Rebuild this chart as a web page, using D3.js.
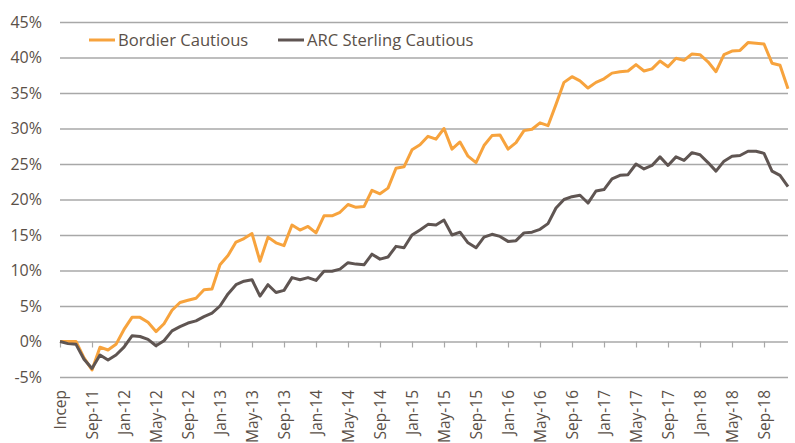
<!DOCTYPE html>
<html>
<head>
<meta charset="utf-8">
<script src="https://cdn.jsdelivr.net/npm/d3@7"></script>
<style>
  body { margin: 0; background: #fff; }
  text { font-family: "Open Sans", "Noto Sans", sans-serif; fill: #5a5048; }
</style>
</head>
<body>
<svg id="chart"></svg>
<script>
const months = [
  "Incep","Jun-11","Jul-11","Aug-11","Sep-11","Oct-11","Nov-11","Dec-11",
  "Jan-12","Feb-12","Mar-12","Apr-12","May-12","Jun-12","Jul-12","Aug-12","Sep-12","Oct-12","Nov-12","Dec-12",
  "Jan-13","Feb-13","Mar-13","Apr-13","May-13","Jun-13","Jul-13","Aug-13","Sep-13","Oct-13","Nov-13","Dec-13",
  "Jan-14","Feb-14","Mar-14","Apr-14","May-14","Jun-14","Jul-14","Aug-14","Sep-14","Oct-14","Nov-14","Dec-14",
  "Jan-15","Feb-15","Mar-15","Apr-15","May-15","Jun-15","Jul-15","Aug-15","Sep-15","Oct-15","Nov-15","Dec-15",
  "Jan-16","Feb-16","Mar-16","Apr-16","May-16","Jun-16","Jul-16","Aug-16","Sep-16","Oct-16","Nov-16","Dec-16",
  "Jan-17","Feb-17","Mar-17","Apr-17","May-17","Jun-17","Jul-17","Aug-17","Sep-17","Oct-17","Nov-17","Dec-17",
  "Jan-18","Feb-18","Mar-18","Apr-18","May-18","Jun-18","Jul-18","Aug-18","Sep-18","Oct-18","Nov-18","Dec-18"
];

const tickLabels = [
  "Incep","Sep-11","Jan-12","May-12","Sep-12","Jan-13","May-13","Sep-13",
  "Jan-14","May-14","Sep-14","Jan-15","May-15","Sep-15","Jan-16","May-16",
  "Sep-16","Jan-17","May-17","Sep-17","Jan-18","May-18","Sep-18"
];

const bordier = [
  0, 0, 0, -2.3, -4.0, -0.8, -1.2, -0.4,
  1.7, 3.4, 3.4, 2.7, 1.4, 2.5, 4.4, 5.5, 5.8, 6.1, 7.3, 7.4,
  10.8, 12.1, 14.0, 14.5, 15.2, 11.3, 14.7, 13.9, 13.5, 16.4, 15.7, 16.2,
  15.3, 17.7, 17.7, 18.2, 19.3, 18.9, 19.0, 21.3, 20.8, 21.6, 24.4, 24.6,
  27.0, 27.7, 28.9, 28.5, 30.0, 27.1, 28.1, 26.1, 25.2, 27.6, 29.0, 29.1,
  27.1, 28.0, 29.7, 29.9, 30.8, 30.4, 33.4, 36.5, 37.3, 36.7, 35.7, 36.5,
  37.0, 37.8, 38.0, 38.1, 39.0, 38.1, 38.4, 39.5, 38.7, 39.9, 39.6, 40.5,
  40.4, 39.4, 38.0, 40.4, 40.9, 41.0, 42.1, 42.0, 41.9, 39.2, 38.9, 35.6
];

const arcSterling = [
  0, -0.3, -0.4, -2.5, -3.8, -1.9, -2.6, -1.9,
  -0.8, 0.8, 0.7, 0.3, -0.6, 0.1, 1.5, 2.1, 2.6, 2.9, 3.5, 4.0,
  5.0, 6.7, 8.0, 8.5, 8.7, 6.4, 8.0, 6.9, 7.2, 9.0, 8.7, 9.0,
  8.6, 9.9, 9.9, 10.2, 11.1, 10.9, 10.8, 12.3, 11.6, 11.9, 13.4, 13.2,
  15.0, 15.7, 16.5, 16.4, 17.1, 15.0, 15.4, 13.9, 13.2, 14.7, 15.1, 14.8,
  14.1, 14.2, 15.3, 15.4, 15.8, 16.6, 18.8, 20.0, 20.4, 20.6, 19.5, 21.2,
  21.4, 22.9, 23.4, 23.5, 25.0, 24.3, 24.8, 26.0, 24.8, 26.0, 25.5, 26.6,
  26.3, 25.2, 24.0, 25.4, 26.1, 26.2, 26.8, 26.8, 26.5, 24.0, 23.4, 21.8
];

const yTicks = [-5, 0, 5, 10, 15, 20, 25, 30, 35, 40, 45];

const seriesNames = ["Bordier Cautious", "ARC Sterling Cautious"];
const seriesColors = ["#f7a33d", "#5f5552"];

const width = 795, height = 443;
const margin = { top: 22, right: 7, bottom: 66, left: 60 };

const svg = d3.select("#chart").attr("width", width).attr("height", height);

const x = d3.scalePoint()
  .domain(months)
  .range([margin.left, width - margin.right]);

const y = d3.scaleLinear()
  .domain([-5, 45])
  .range([height - margin.bottom, margin.top]);

// gridlines + y labels
const yAxis = svg.append("g")
  .attr("transform", `translate(${margin.left},0)`)
  .call(d3.axisLeft(y)
    .tickValues(yTicks)
    .tickSize(-(width - margin.left - margin.right))
    .tickPadding(18)
    .tickFormat(d => d + "%"));
yAxis.select(".domain").remove();
yAxis.selectAll(".tick line").attr("stroke", "#a8a8a8").attr("stroke-width", 1.4);
yAxis.selectAll(".tick text").style("font-size", "16px").attr("dy", "0.34em");

// category ticks on the 0% line
const xAxis = svg.append("g")
  .attr("transform", `translate(0,${y(0)})`)
  .call(d3.axisBottom(x)
    .tickValues(months.filter((m, i) => i % 4 === 0))
    .tickSize(6)
    .tickFormat(""));
xAxis.select(".domain").remove();
xAxis.selectAll(".tick line").attr("stroke", "#a8a8a8").attr("stroke-width", 1.2);

// category labels at the bottom
svg.append("g")
  .selectAll("text")
  .data(tickLabels)
  .join("text")
  .attr("transform", (d, i) => `translate(${x(months[i * 4]) + 1},${height - 53}) rotate(-90)`)
  .attr("dy", "0.35em")
  .style("text-anchor", "end")
  .style("font-size", "15.5px")
  .text(d => d);

// lines
const line = d3.line()
  .x((d, i) => x(months[i]))
  .y(d => y(d));

[bordier, arcSterling].forEach((s, k) => {
  svg.append("path")
    .datum(s)
    .attr("fill", "none")
    .attr("stroke", seriesColors[k])
    .attr("stroke-width", 3)
    .attr("stroke-linejoin", "round")
    .attr("d", line);
});

// legend
const legendX = [89, 278];
const legend = svg.append("g");
seriesNames.forEach((name, k) => {
  legend.append("line")
    .attr("x1", legendX[k]).attr("x2", legendX[k] + 26)
    .attr("y1", 40).attr("y2", 40)
    .attr("stroke", seriesColors[k])
    .attr("stroke-width", 3);
  legend.append("text")
    .attr("x", legendX[k] + 29)
    .attr("y", 40)
    .attr("dy", "0.35em")
    .style("font-size", "16.6px")
    .text(name);
});
</script>
</body>
</html>
